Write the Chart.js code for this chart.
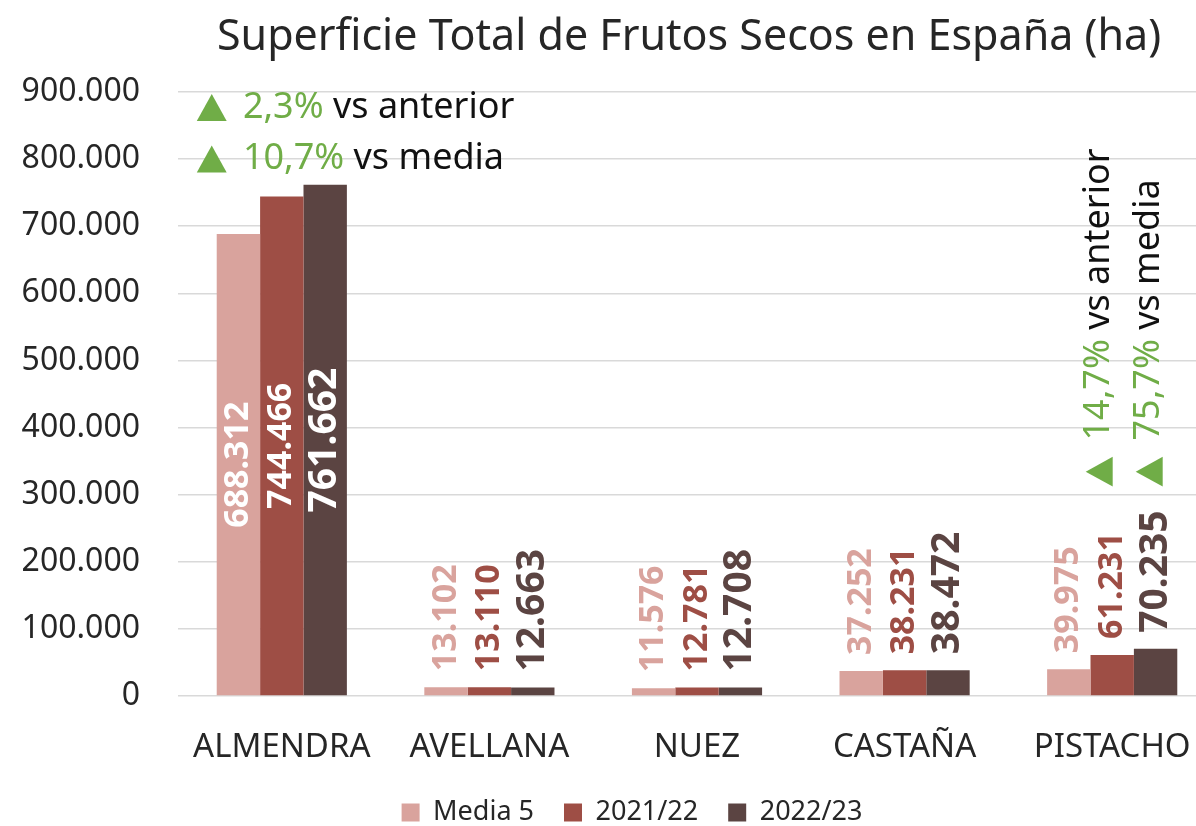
<!DOCTYPE html>
<html><head><meta charset="utf-8">
<script src="https://cdn.jsdelivr.net/npm/chart.js@4/dist/chart.umd.min.js"></script>
<style>html,body{margin:0;padding:0;background:#fff;overflow:hidden}#wrap{width:1196px;height:826px;overflow:hidden}</style>
</head><body><div id="wrap"><canvas id="c" width="1220" height="826"></canvas></div>
<script>
const TITLE = 'Superficie Total de Frutos Secos en España (ha)';
const categories = ['ALMENDRA','AVELLANA','NUEZ','CASTAÑA','PISTACHO'];
const seriesNames = ['Media 5','2021/22','2022/23'];
const media5 = [688312, 13102, 11576, 37252, 39975];
const y2021 = [744466, 13110, 12781, 38231, 61231];
const y2022 = [761662, 12663, 12708, 38472, 70235];
const colors = ['#D9A39D','#9E4E45','#5B4442'];
const yTicks = [0,100000,200000,300000,400000,500000,600000,700000,800000,900000];
const almendraNotes = [['2,3%',' vs anterior'],['10,7%',' vs media']];
const pistachoNotes = [['14,7%',' vs anterior'],['75,7%',' vs media']];

const FONT = '"Noto Sans", "Open Sans", sans-serif';
const fmt = v => v === 0 ? '0' : v.toString().replace(/\B(?=(\d{3})+(?!\d))/g, '.');

function drawNote(ctx, parts, fontPx) {
  const g = '#70AD47';
  ctx.fillStyle = g;
  const tw = fontPx*0.83, th = fontPx*0.75;
  ctx.beginPath();
  ctx.moveTo(0, th/2);
  ctx.lineTo(tw, th/2);
  ctx.lineTo(tw/2, -th/2);
  ctx.closePath();
  ctx.fill();
  ctx.font = fontPx + 'px ' + FONT;
  ctx.textBaseline = 'middle';
  ctx.textAlign = 'left';
  let x = tw + fontPx*0.45;
  ctx.fillStyle = g;
  ctx.fillText(parts[0], x, 0);
  x += ctx.measureText(parts[0]).width;
  ctx.fillStyle = '#111';
  ctx.fillText(parts[1], x, 0);
}

const labelFonts = [{w:'bold', s:34},{w:'bold', s:34},{w:'bold', s:39}];

const plugin = {
  id: 'custom',
  afterLayout(chart) {
    if (chart.legend) { chart.legend.left += 24; chart.legend.right += 24; }
  },
  afterDraw(chart) {
    const ctx = chart.ctx;
    const xs = chart.scales.x, ys = chart.scales.y;
    const ca = chart.chartArea;
    ctx.save();
    ctx.font = '43px ' + FONT;
    ctx.fillStyle = '#262626';
    ctx.textAlign = 'center';
    ctx.textBaseline = 'middle';
    ctx.fillText(TITLE, ca.left + 511, 38);
    ctx.restore();
    chart.data.datasets.forEach((ds, di) => {
      const meta = chart.getDatasetMeta(di);
      meta.data.forEach((bar, i) => {
        const v = ds.data[i];
        const f = labelFonts[di];
        ctx.save();
        ctx.font = f.w + ' ' + f.s + 'px ' + FONT;
        ctx.textBaseline = 'middle';
        if (i === 0) {
          ctx.translate(bar.x, (bar.y + bar.base)/2);
          ctx.rotate(-Math.PI/2);
          ctx.textAlign = 'center';
          ctx.fillStyle = '#fff';
        } else {
          ctx.translate(bar.x, bar.y - 16);
          ctx.rotate(-Math.PI/2);
          ctx.textAlign = 'left';
          ctx.fillStyle = colors[di];
        }
        ctx.fillText(fmt(v), 0, 0);
        ctx.restore();
      });
    });
    const ax = xs.getPixelForValue(0);
    ctx.save();
    ctx.translate(ax - 85, ys.getPixelForValue(877000));
    drawNote(ctx, almendraNotes[0], 36);
    ctx.restore();
    ctx.save();
    ctx.translate(ax - 85, ys.getPixelForValue(800000));
    drawNote(ctx, almendraNotes[1], 36);
    ctx.restore();
    const px = xs.getPixelForValue(4);
    const baseY = ys.getPixelForValue(312000);
    [[px - 13, pistachoNotes[0]], [px + 37, pistachoNotes[1]]].forEach(([x, n]) => {
      ctx.save();
      ctx.translate(x, baseY);
      ctx.rotate(-Math.PI/2);
      drawNote(ctx, n, 36);
      ctx.restore();
    });
  }
};

new Chart(document.getElementById('c'), {
  type: 'bar',
  data: {
    labels: categories,
    datasets: [
      {label: seriesNames[0], data: media5, backgroundColor: colors[0]},
      {label: seriesNames[1], data: y2021, backgroundColor: colors[1]},
      {label: seriesNames[2], data: y2022, backgroundColor: colors[2]}
    ]
  },
  options: {
    responsive: false,
    animation: false,
    devicePixelRatio: 1,
    layout: {padding: {top: 92, right: 4, left: 0, bottom: -10}},
    datasets: {bar: {categoryPercentage: 0.627, barPercentage: 1.0}},
    scales: {
      x: {
        grid: {display: false},
        border: {display: false},
        ticks: {font: {family: FONT, size: 33}, color: '#262626', padding: 24, maxRotation: 0},
        afterFit(s) { s.height = 73; }
      },
      y: {
        min: 0, max: 900000,
        afterBuildTicks(s) { s.ticks = yTicks.map(v => ({value: v})); },
        grid: {color: '#D9D9D9', lineWidth: 1.5, drawTicks: false},
        border: {display: false},
        ticks: {font: {family: FONT, size: 32}, color: '#262626', padding: 38, callback: v => fmt(v)},
        afterFit(s) { s.width = 178; }
      }
    },
    plugins: {
      title: {display: false},
      tooltip: {enabled: false},
      legend: {
        position: 'bottom',
        labels: {font: {family: FONT, size: 27}, color: '#262626', boxWidth: 18, boxHeight: 18, padding: 30}
      }
    }
  },
  plugins: [plugin]
});
</script></body></html>
